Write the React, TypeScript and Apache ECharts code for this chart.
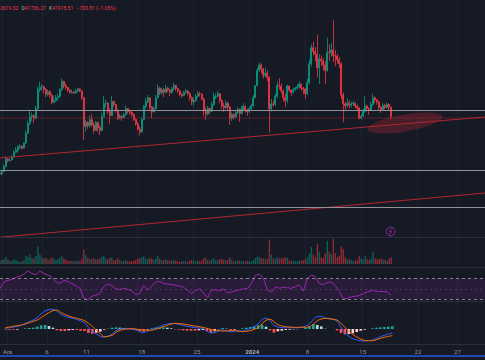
import React, { useEffect, useRef } from "react";
import * as echarts from "echarts";

// ---- time axis (6h slots starting 30 Nov 18:00) ----
const START_UTC = Date.UTC(2023, 10, 30, 18);
const SLOT_HOURS = 6;
const SLOT_COUNT = 244;
const tickDates = ["12-01 00", "12-06 00", "12-11 00", "12-18 00", "12-25 00", "01-01 00", "01-08 00", "01-15 00", "01-22 00", "01-27 00"];
const tickLabels = ["Ara", "6", "11", "18", "25", "2024", "8", "15", "22", "27"];

// ---- 6h candles (open = previous close) ----
const firstOpen = 37800;
const closes = [
  37712,
  37900, 38250, 38800, 38688, 38750, 38950, 39300, 39476, 39700, 39750, 39600, 39978,
  40700, 41400, 41900, 41980, 41800, 42500, 43900, 44080, 44100, 43900, 43550, 43746,
  43500, 42950, 43100, 43293, 43400, 43900, 44500, 44170, 44050, 43850, 43700, 43713,
  43650, 43800, 43950, 43789, 43300, 41200, 41500, 41253, 41700, 41300, 40900, 41492,
  41100, 40900, 41900, 42869, 42900, 42300, 42000, 43022, 42800, 42400, 41800, 41940,
  41850, 42050, 42500, 42278, 42200, 42050, 41700, 41374, 41000, 40800, 41700, 42657,
  43000, 43300, 42600, 42271, 42500, 43300, 44000, 43668, 43900, 43700, 44000, 43861,
  43700, 43950, 44200, 43969, 43800, 43550, 43450, 43702, 43800, 43600, 43300, 42991,
  43100, 43400, 43600, 43576, 43200, 42400, 42100, 42508, 42300, 42800, 43400, 43428,
  43600, 43100, 42700, 42563, 42900, 42600, 41800, 42066, 41900, 42200, 42450, 42140,
  42500, 42650, 42400, 42283,
  42500, 42700, 43300, 44179, 45300, 45700, 45400, 44946, 45100, 44800, 42500, 42845,
  42800, 43400, 44200, 44151, 43800, 43300, 43100, 44162, 43850, 43700, 43900, 43989,
  44100, 44300, 44000, 43943, 43600, 44400, 45800, 46970, 46700, 46500, 45500, 46139,
  46000, 45700, 45300, 46627, 46600, 46800, 46400, 46368, 46100, 45800, 43500, 42853,
  42700, 42900, 42750, 42842, 42900, 42700, 42550, 41796, 41950, 42300, 42700, 42511,
  42400, 42800, 43300, 43154, 43000, 42600, 42400, 42742, 42600, 42800, 42619.32, 41915.51,
];
const highs = [
  37900,
  38000, 38400, 38999, 38900, 38850, 39100, 39450, 39676, 39800, 39900, 39800, 40000,
  40900, 41600, 42420, 42200, 42100, 42700, 44100, 44490, 44300, 44200, 44000, 43900,
  43850, 43600, 43400, 43500, 43600, 44000, 44700, 44550, 44358, 44100, 43950, 43900,
  43800, 43950, 44038, 44000, 43804, 43350, 41700, 41600, 42000, 42104, 41500, 41600,
  41550, 41300, 42200, 43431, 43150, 43000, 42500, 43420, 43087, 42850, 42450, 42100,
  42050, 42200, 42724, 42550, 42424, 42300, 42150, 41800, 41500, 41200, 41850, 42757,
  43300, 43500, 43350, 42700, 42700, 43500, 44284, 44100, 44050, 44000, 44240, 44100,
  43950, 44100, 44398, 44250, 43988, 43850, 43650, 43800, 43946, 43850, 43700, 43400,
  43300, 43600, 43802, 43750, 43592, 43300, 42600, 42700, 42600, 43000, 43677, 43600,
  43787, 43650, 43200, 42900, 43111, 43000, 42700, 42200, 42150, 42350, 42612, 42500,
  42700, 42899, 42750, 42500,
  42650, 42850, 43500, 44186, 45500, 45879, 45800, 45500, 45500, 45300, 44900, 43200,
  43100, 43600, 44500, 44729, 44340, 43900, 43600, 44250, 44187, 43900, 44050, 44100,
  44300, 44495, 44350, 44100, 44000, 44700, 46100, 47218, 47400, 47000, 47893, 46500,
  46400, 46200, 46000, 47695, 47200, 47300, 48969, 46800, 46515, 46300, 45900, 43700,
  43000, 43247, 43100, 43000, 43080, 42950, 42800, 42600, 42100, 42500, 43400, 42800,
  42600, 43000, 43578, 43400, 43198, 43050, 42700, 42900, 42850, 42950, 42900, 42619.32,
];
const lows = [
  37580,
  37615, 37850, 38200, 38550, 38600, 38700, 38900, 39250, 39300, 39550, 39500, 39580,
  39900, 40650, 41300, 41600, 41420, 41700, 42400, 43700, 43800, 43600, 43335, 43400,
  43300, 42821, 42900, 43000, 43081, 43300, 43800, 44000, 43900, 43700, 43584, 43600,
  43563, 43600, 43700, 43700, 43150, 40222, 40800, 41000, 41100, 41200, 40680, 40850,
  40800, 40555, 40850, 41850, 42600, 42100, 41400, 41950, 42650, 42200, 41666, 41700,
  41605, 41800, 42000, 42150, 42050, 41900, 41600, 41252, 40900, 40542, 40700, 41650,
  42500, 42900, 42400, 41800, 42223, 42450, 43250, 43500, 43500, 43330, 43600, 43700,
  43412, 43600, 43850, 43800, 43650, 43400, 43293, 43400, 43600, 43450, 43100, 42749,
  42720, 43000, 43300, 43400, 43100, 41950, 41676, 42000, 42099, 42250, 42700, 43200,
  43300, 42900, 42500, 42276, 42500, 42400, 41300, 41600, 41700, 41800, 42100, 41520,
  42050, 42400, 42200, 41965,
  42181, 42400, 42650, 43250, 44148, 45200, 45100, 44700, 44800, 44500, 40750, 42300,
  42613, 42700, 43300, 43900, 43600, 43000, 42625, 42900, 43700, 43420, 43600, 43800,
  43900, 44000, 43800, 43563, 43200, 43500, 44300, 45600, 46400, 46000, 44800, 44300,
  45600, 45300, 44300, 45200, 46000, 46300, 45900, 45606, 45800, 45500, 43200, 41500,
  42436, 42600, 42500, 42600, 42700, 42500, 42350, 41720, 41718, 41900, 42200, 42300,
  42050, 42350, 42700, 42900, 42800, 42400, 42200, 42350, 42450, 42500, 42400, 41736.27,
];
const volumes = [
  5,
  6, 7, 10, 6, 4, 5, 7, 6, 4, 3, 4, 6, 12, 10, 14, 9, 8, 12, 26, 14, 10, 8, 9, 7,
  7, 10, 8, 6, 7, 9, 12, 8, 6, 5, 5, 4, 4, 4, 5, 4, 8, 21, 13, 9, 8, 7, 9, 7,
  7, 8, 10, 12, 8, 7, 9, 10, 6, 6, 9, 6, 4, 4, 6, 4, 4, 4, 5, 6, 8, 9, 10, 11,
  8, 7, 9, 8, 6, 8, 12, 8, 6, 6, 7, 5, 5, 5, 6, 5, 4, 3, 4, 4, 4, 3, 5, 6,
  5, 4, 5, 4, 5, 8, 10, 6, 5, 6, 9, 6, 6, 7, 8, 6, 6, 6, 10, 6, 4, 4, 5, 5,
  4, 4, 4, 5,
  4, 4, 6, 9, 11, 10, 9, 8, 7, 8, 36, 14, 8, 8, 10, 8, 8, 9, 10, 9, 5, 5, 5, 4,
  4, 5, 5, 6, 7, 10, 16, 25, 14, 10, 30, 18, 10, 9, 16, 34, 18, 14, 37, 16, 10, 12, 26, 22,
  10, 7, 7, 6, 5, 5, 6, 12, 8, 7, 12, 7, 6, 8, 18, 8, 7, 7, 8, 6, 6, 5, 8, 10,
];

// ---- indicators read every 12h (every 2nd slot) ----
const rsi12h = [
  51, 63, 66, 68, 72, 74, 78, 84, 79, 77, 84, 79, 76, 72, 63, 60, 66, 64, 60, 56,
  51, 33, 29, 36, 38, 41, 54, 59, 56, 50, 49, 51, 49, 46, 39, 41, 57, 48, 55, 63,
  64, 60, 59, 58, 57, 55, 53, 47, 41, 47, 50, 42, 33, 48, 48, 46, 50, 42, 44, 46,
  48, 50, 51, 60, 76, 78, 69, 48, 44, 54, 51, 53, 52, 51, 54, 57, 46, 70, 76, 73,
  60, 58, 62, 63, 56, 45, 31, 32, 35, 36, 37, 41, 44, 47, 46, 45, 45, 44, 38,
];
const macd12h = [
  27, 53, 80, 107, 160, 227, 293, 360, 453, 600, 720, 773, 787, 707, 587, 507, 467, 427, 387, 320,
  253, 67, -80, -200, -293, -333, -280, -200, -67, 0, 27, 13, 0, -40, -107, -147, -80, -27, 40, 93,
  160, 200, 227, 213, 187, 147, 107, 80, 53, 40, 27, -67, -160, -147, -80, -40, -67, -107, -93, -80,
  -80, -40, 13, 93, 200, 387, 440, 333, 147, 80, 53, 53, 53, 53, 53, 67, 120, 200, 387, 493,
  507, 440, 413, 387, 307, 67, -147, -293, -387, -440, -467, -480, -467, -440, -373, -307, -253, -200, -160,
];
const signal12h = [
  53, 80, 107, 133, 160, 200, 253, 307, 360, 453, 560, 653, 733, 760, 667, 587, 520, 467, 427, 387,
  333, 227, 107, -53, -187, -307, -293, -253, -133, -53, -13, 0, 13, 0, -27, -40, -53, -53, -13, 40,
  93, 147, 200, 227, 213, 200, 173, 147, 120, 93, 67, 27, -13, -53, -67, -80, -80, -67, -67, -80,
  -107, -93, -67, -13, 53, 213, 347, 387, 293, 173, 120, 93, 80, 67, 67, 67, 67, 93, 187, 333,
  400, 427, 413, 387, 360, 227, 67, -93, -213, -320, -400, -453, -467, -467, -427, -373, -333, -293, -267,
];

// ---- drawings ----
const greyLevels = [42400, 37965, 35267];
const faintRedLevel = 41814;
const trendUpper = [38881, 41887];
const trendLower = [33067, 36315];

const UP = "#089981";
const DOWN = "#f23645";
const BG = "#161a25";
const GRID = "#1e2230";

const pad = (n: number) => String(n).padStart(2, "0");
const categories = Array.from({ length: SLOT_COUNT }, (_, i) => {
  const d = new Date(START_UTC + i * SLOT_HOURS * 3600 * 1000);
  return `${pad(d.getUTCMonth() + 1)}-${pad(d.getUTCDate())} ${pad(d.getUTCHours())}`;
});

export default function App() {
  const ref = useRef<HTMLDivElement>(null);
  useEffect(() => {
    document.body.style.margin = "0";
    document.body.style.background = BG;
    const chart = echarts.init(ref.current!, undefined, { renderer: "svg" });

    const opens = closes.map((c, i) => (i === 0 ? firstOpen : closes[i - 1]));
    const candleData = closes.map((c, i) => {
      const up = c >= opens[i];
      const col = up ? UP : DOWN;
      return {
        value: [opens[i], c, lows[i], highs[i]],
        itemStyle: { color: col, color0: col, borderColor: col, borderColor0: col },
      };
    });
    const volData = volumes.map((v, i) => ({
      value: v,
      itemStyle: { color: closes[i] >= opens[i] ? "rgba(8,153,129,0.55)" : "rgba(242,54,69,0.55)" },
    }));
    const spread = (arr: number[]) => {
      const out: (number | null)[] = new Array(SLOT_COUNT).fill(null);
      arr.forEach((v, k) => (out[k * 2] = v));
      return out;
    };
    const rsiData = spread(rsi12h);
    const macdData = spread(macd12h);
    const sigData = spread(signal12h);
    const histData: any[] = new Array(SLOT_COUNT).fill(null);
    let prev = 0;
    macd12h.forEach((m, k) => {
      const h = m - signal12h[k];
      const col = h >= 0 ? (h >= prev ? "#26a69a" : "#b2dfdb") : h <= prev ? "#ff5252" : "#ffcdd2";
      histData[k * 2] = { value: h, itemStyle: { color: col } };
      prev = h;
    });

    const isTick = (_: number, v: string) => tickDates.includes(v);
    const grids = [
      { left: 0, top: 0, width: 485, height: 237 },
      { left: 0, top: 237, width: 485, height: 27 },
      { left: 0, top: 268, width: 485, height: 34 },
      { left: 0, top: 302, width: 485, height: 42 },
    ];
    const xAxes = grids.map((_, i) => ({
      type: "category",
      gridIndex: i,
      data: categories,
      boundaryGap: false,
      axisLine: { show: false },
      axisTick: { show: false },
      splitLine: { show: true, interval: isTick, lineStyle: { color: GRID, width: 1 } },
      axisLabel: {
        show: i === 3,
        interval: isTick,
        margin: 4,
        fontSize: 6,
        fontFamily: "Roboto",
        color: "#9598a1",
        formatter: (v: string) => {
          const t = tickLabels[tickDates.indexOf(v)] ?? "";
          return t === "2024" ? "{b|2024}" : t;
        },
        rich: { b: { fontSize: 6, fontWeight: "bold", color: "#b2b5be", fontFamily: "Roboto" } },
      },
    }));
    const yAxes = [
      { gridIndex: 0, type: "value", min: 33089, max: 50464, show: false },
      { gridIndex: 1, type: "value", min: 0, max: 40, show: false },
      { gridIndex: 2, type: "value", min: 25, max: 89.6, show: false },
      { gridIndex: 3, type: "value", min: -600, max: 1080, show: false },
    ];
    const hLine = (y: number, color: string, width: number, type: any = "solid") => ({
      yAxis: y,
      lineStyle: { color, width, type },
    });

    chart.setOption({
      animation: false,
      backgroundColor: BG,
      grid: grids,
      xAxis: xAxes,
      yAxis: yAxes,
      series: [
        {
          type: "candlestick",
          xAxisIndex: 0,
          yAxisIndex: 0,
          data: candleData,
          barWidth: 1.5,
          large: false,
          emphasis: { disabled: true },
          itemStyle: { color: UP, color0: DOWN, borderColor: UP, borderColor0: DOWN, borderWidth: 0.8 },
          markLine: {
            silent: true,
            symbol: ["none", "none"],
            label: { show: false },
            data: [
              hLine(faintRedLevel, "rgba(178,40,51,0.2)", 2),
              ...greyLevels.map((g) => hLine(g, "#8f9299", 1)),
            ],
          },
          z: 3,
        },
        {
          type: "line",
          xAxisIndex: 0,
          yAxisIndex: 0,
          data: [[0, trendUpper[0]], [SLOT_COUNT - 1, trendUpper[1]]],
          symbol: "none",
          lineStyle: { color: "#b22833", width: 1 },
          clip: true,
          z: 4,
        },
        {
          type: "line",
          xAxisIndex: 0,
          yAxisIndex: 0,
          data: [[0, trendLower[0]], [SLOT_COUNT - 1, trendLower[1]]],
          symbol: "none",
          lineStyle: { color: "#b22833", width: 1 },
          clip: true,
          z: 4,
        },
        {
          type: "bar",
          xAxisIndex: 1,
          yAxisIndex: 1,
          data: volData,
          barWidth: 1.4,
        },
        {
          type: "line",
          xAxisIndex: 2,
          yAxisIndex: 2,
          data: rsiData,
          connectNulls: true,
          symbol: "none",
          lineStyle: { color: "#9c27b0", width: 1 },
          markArea: {
            silent: true,
            itemStyle: { color: "rgba(156,39,176,0.14)" },
            data: [[{ yAxis: 70 }, { yAxis: 30 }]],
          },
          markLine: {
            silent: true,
            symbol: ["none", "none"],
            label: { show: false },
            data: [
              hLine(70, "rgba(150,153,162,0.85)", 1, [3, 3]),
              hLine(30, "rgba(150,153,162,0.85)", 1, [3, 3]),
              hLine(50, "rgba(150,153,162,0.25)", 1, [2, 3]),
            ],
          },
        },
        {
          type: "bar",
          xAxisIndex: 3,
          yAxisIndex: 3,
          data: histData,
          barWidth: 2.6,
        },
        {
          type: "line",
          xAxisIndex: 3,
          yAxisIndex: 3,
          data: macdData,
          connectNulls: true,
          smooth: 0.3,
          symbol: "none",
          lineStyle: { color: "#2962ff", width: 1 },
        },
        {
          type: "line",
          xAxisIndex: 3,
          yAxisIndex: 3,
          data: sigData,
          connectNulls: true,
          smooth: 0.3,
          symbol: "none",
          lineStyle: { color: "#ff6d00", width: 1 },
        },
      ],
      graphic: [
        {
          type: "text",
          left: 0,
          top: 2,
          z: 20,
          style: {
            text: "{r|2619.32} {g|D}{r|41736.27} {g|K}{r|41915.51} {r|\u2212703.81 (\u22121.65%)}",
            rich: {
              r: { fill: "#f23645", fontSize: 5, fontFamily: "Roboto" },
              g: { fill: "#b2b5be", fontSize: 5, fontFamily: "Roboto" },
            },
          },
        },
        {
          type: "ellipse",
          x: 405,
          y: 123,
          rotation: 0.17,
          shape: { cx: 0, cy: 0, rx: 38, ry: 8.5 },
          style: { fill: "rgba(178,40,51,0.32)" },
          z: 10,
        },
        {
          type: "circle",
          shape: { cx: 390.7, cy: 231.5, r: 4.3 },
          style: { fill: "none", stroke: "#9c27b0", lineWidth: 1 },
          z: 10,
        },
        {
          type: "polyline",
          shape: { points: [[391.6, 228.7], [389.6, 231.9], [391.6, 231.3], [389.8, 234.4]] },
          style: { fill: "none", stroke: "#9c27b0", lineWidth: 0.8 },
          z: 10,
        },
        ...[237.5, 267.5, 301.5, 344.5].map((y) => ({
          type: "line",
          shape: { x1: 0, y1: y, x2: 485, y2: y },
          style: { stroke: "#2a2e39", lineWidth: 1 },
          z: 9,
        })),
        {
          type: "line",
          shape: { x1: 0, y1: 356, x2: 485, y2: 356 },
          style: { stroke: "#2459e0", lineWidth: 1.3 },
          z: 9,
        },
      ],
    });
    return () => chart.dispose();
  }, []);
  return (
    <div
      ref={ref}
      style={{ position: "fixed", left: 0, top: 0, width: 485, height: 360, background: BG }}
    />
  );
}
